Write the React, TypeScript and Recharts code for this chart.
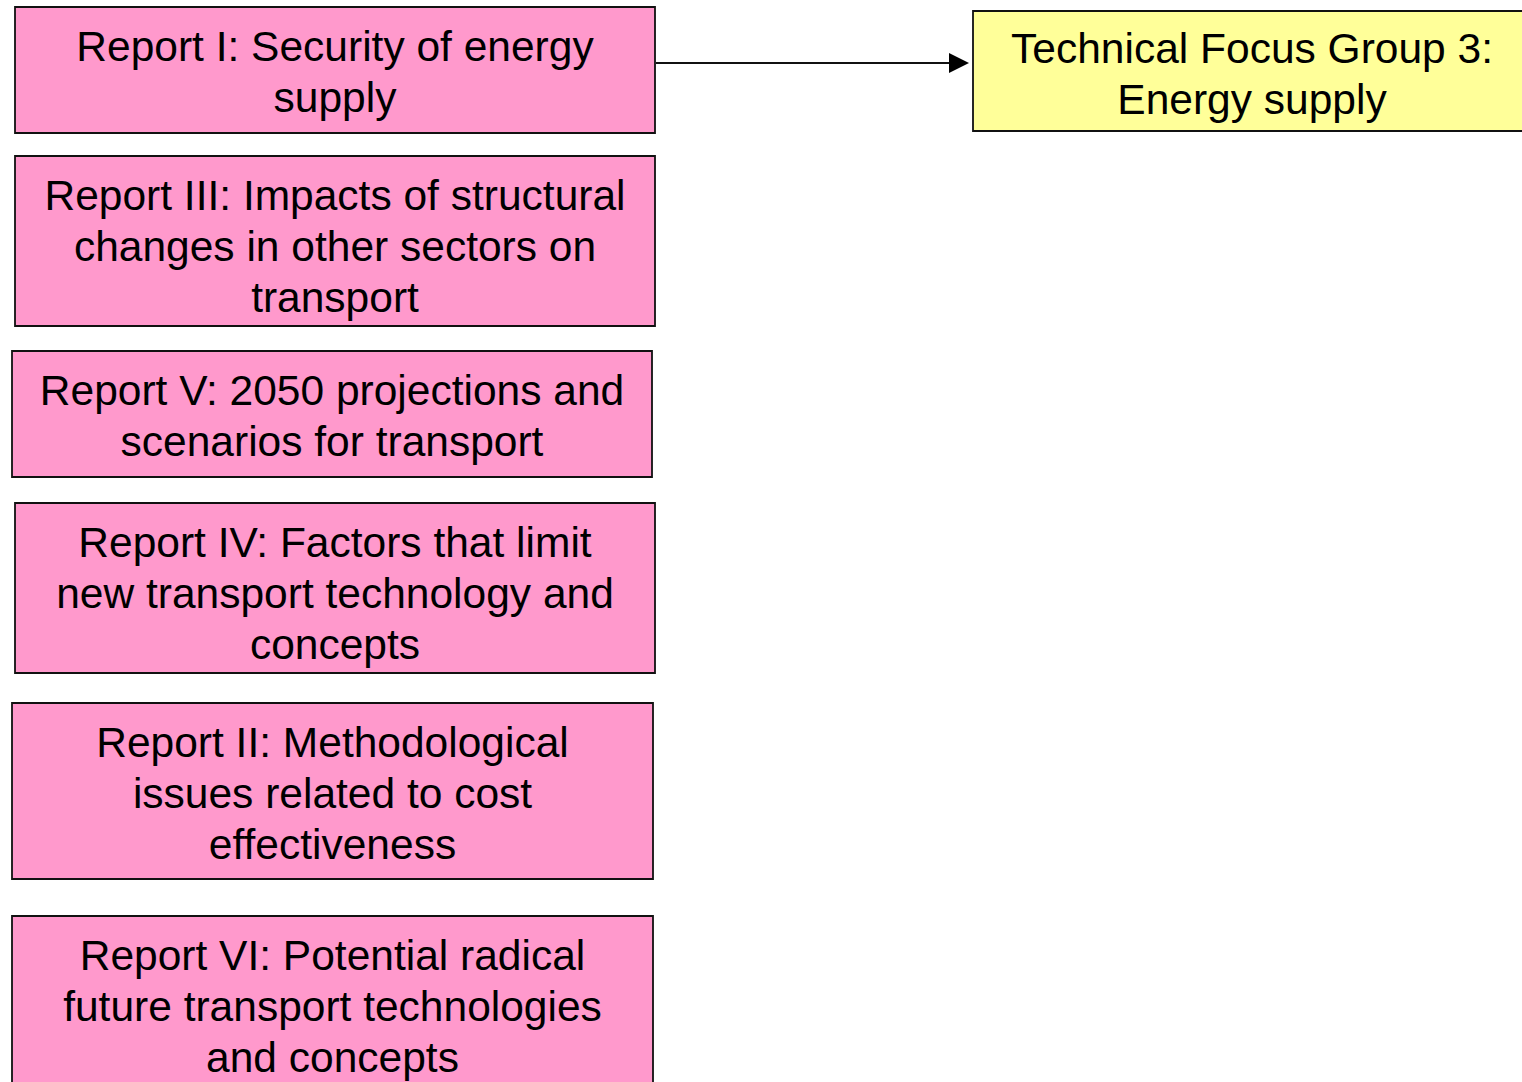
import {
  ComposedChart,
  XAxis,
  YAxis,
  ReferenceArea,
  ReferenceLine,
  Scatter,
} from "recharts";

// report boxes (left column), text split into lines as in the source
const reportLines = [
  ["Report I: Security of energy", "supply"],
  ["Report III: Impacts of structural", "changes in other sectors on", "transport"],
  ["Report V: 2050 projections and", "scenarios for transport"],
  ["Report IV: Factors that limit", "new transport technology and", "concepts"],
  ["Report II: Methodological", "issues related to cost", "effectiveness"],
  ["Report VI: Potential radical", "future transport technologies", "and concepts"],
];
// box extents in diagram units
const reportLeft = [15, 15, 12, 15, 12, 12];
const reportRight = [655, 655, 652, 655, 653, 653];
const reportTop = [7, 156, 351, 503, 703, 916];
const reportBottom = [133, 326, 477, 673, 879, 1095];

const focusLines = ["Technical Focus Group 3:", "Energy supply"];
const focusBox = { x1: 973, x2: 1531, y1: 11, y2: 131 };

const arrowFrom = { x: 656, y: 63 };
const arrowTip = [{ x: 959, y: 63 }];

const W = 1522;
const H = 1082;

// note: Label injects its own "offset" prop, so use another name here
const BoxLabel = (props: any) => {
  const { viewBox, lines, firstBaseline } = props;
  if (!viewBox) return null;
  const cx = viewBox.x + viewBox.width / 2;
  const y0 = viewBox.y + firstBaseline;
  return (
    <text
      x={cx}
      y={y0}
      textAnchor="middle"
      fontFamily="'Liberation Sans', Arial, sans-serif"
      fontSize={42.5}
      fill="#000"
    >
      {lines.map((l: string, i: number) => (
        <tspan key={i} x={cx} y={y0 + i * 51}>
          {l}
        </tspan>
      ))}
    </text>
  );
};

const ArrowHead = (props: any) => {
  const { cx, cy } = props;
  return (
    <polygon
      points={`${cx - 10},${cy - 10} ${cx + 10},${cy} ${cx - 10},${cy + 10}`}
      fill="#000"
    />
  );
};

export default function App() {
  return (
    <div style={{ position: "absolute", left: 0, top: 0, background: "#fff" }}>
      <ComposedChart
        width={W}
        height={H}
        data={arrowTip}
        margin={{ top: 0, right: 0, bottom: 0, left: 0 }}
      >
        <XAxis type="number" dataKey="x" domain={[0, W]} hide allowDataOverflow />
        <YAxis type="number" dataKey="y" domain={[0, H]} reversed hide allowDataOverflow />
        {reportLines.map((lines, i) => (
          <ReferenceArea
            key={i}
            x1={reportLeft[i]}
            x2={reportRight[i]}
            y1={reportTop[i]}
            y2={reportBottom[i]}
            fill="#FF99CC"
            fillOpacity={1}
            stroke="#111"
            strokeWidth={1.8}
            ifOverflow="visible"
            label={<BoxLabel lines={lines} firstBaseline={54} />}
          />
        ))}
        <ReferenceArea
          x1={focusBox.x1}
          x2={focusBox.x2}
          y1={focusBox.y1}
          y2={focusBox.y2}
          fill="#FFFF99"
          fillOpacity={1}
          stroke="#111"
          strokeWidth={1.8}
          ifOverflow="visible"
          label={<BoxLabel lines={focusLines} firstBaseline={52} />}
        />
        <ReferenceLine
          segment={[arrowFrom, { x: arrowTip[0].x - 8, y: arrowTip[0].y }]}
          stroke="#111"
          strokeWidth={2}
          ifOverflow="visible"
        />
        <Scatter
          dataKey="y"
          data={arrowTip}
          shape={<ArrowHead />}
          isAnimationActive={false}
        />
      </ComposedChart>
    </div>
  );
}
